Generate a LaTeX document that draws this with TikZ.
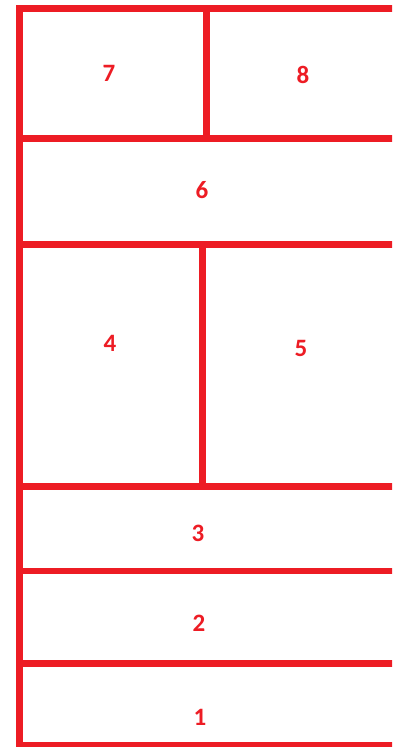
\documentclass[tikz,border=0pt]{standalone}
\usepackage{fontspec}
\setmainfont{Carlito}
\definecolor{paintred}{RGB}{237,28,36}
\tikzset{
  wall/.style={draw=paintred,line width=6.5pt},
  cell/.style={text=paintred,font=\bfseries\fontsize{25}{25}\selectfont}
}
\begin{document}
\begin{tikzpicture}[x=1pt,y=1pt]
\useasboundingbox (0,0) rectangle (392,747);
\clip (0,0) rectangle (392,747);
% outer frame and floors
\draw[wall] (400,738.5) -- (19.5,738.5) -- (19.5,2) -- (400,2);
\draw[wall] (19.5,608.5) -- (400,608.5);
\draw[wall] (19.5,502.5) -- (400,502.5);
\draw[wall] (19.5,260.5) -- (400,260.5);
\draw[wall] (19.5,176) -- (400,176);
\draw[wall] (19.5,83.5) -- (400,83.5);
% dividers
\draw[wall] (206.5,738.5) -- (206.5,608.5);
\draw[wall] (202.5,502.5) -- (202.5,260.5);
% labels
\node[cell] (r7) at (109,674) {7};
\node[cell] (r8) at (303,672) {8};
\node[cell] (r6) at (202,557) {6};
\node[cell] (r4) at (110,404) {4};
\node[cell] (r5) at (301,399) {5};
\node[cell] (r3) at (198,214) {3};
\node[cell] (r2) at (199,124) {2};
\node[cell] (r1) at (200,30) {1};
\end{tikzpicture}
\end{document}
